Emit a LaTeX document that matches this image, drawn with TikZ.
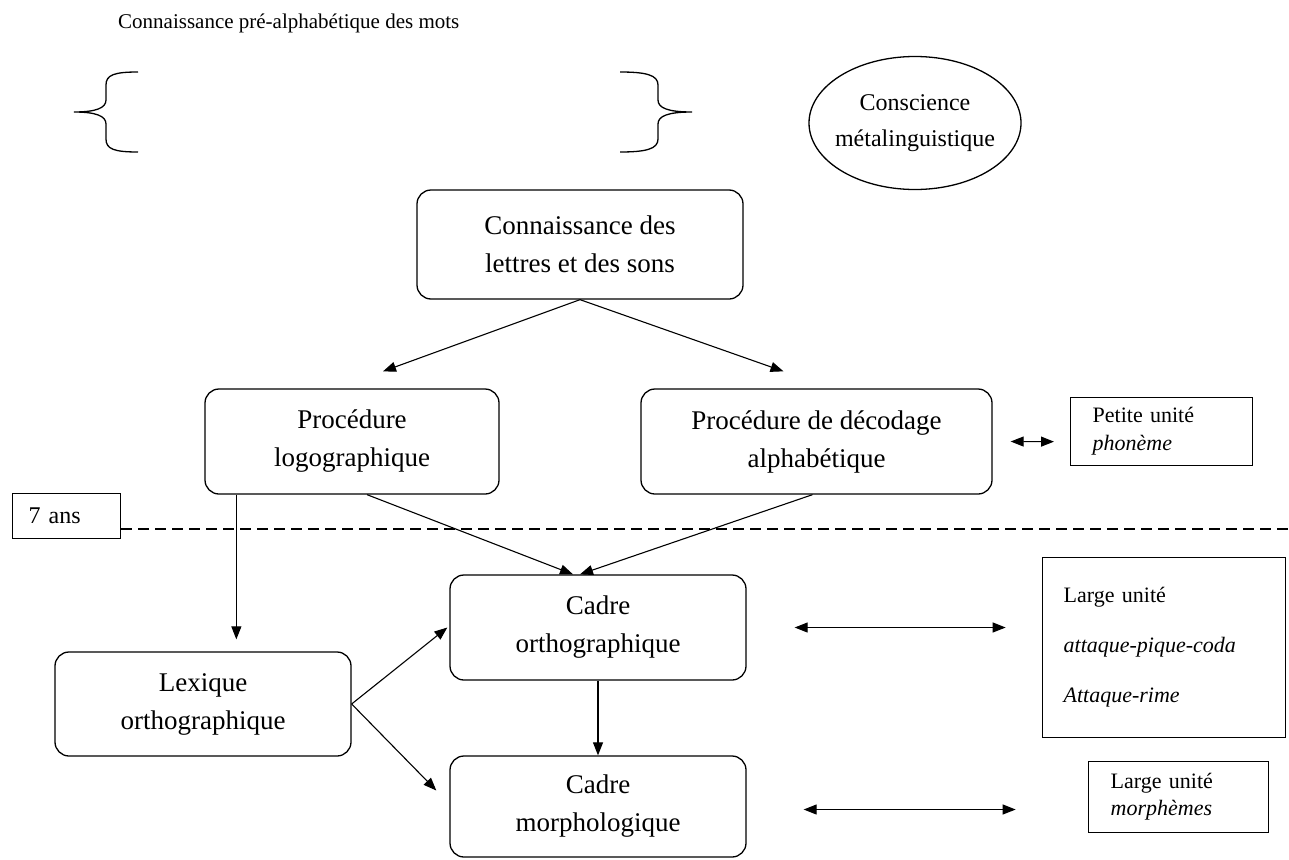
\documentclass[tikz,border=0pt]{standalone}
\usepackage{fontspec}
\setmainfont{Liberation Serif}
\usetikzlibrary{arrows.meta,shapes.geometric,calc}
\begin{document}
\begin{tikzpicture}[x=1pt,y=-1pt,
  rbox/.style={draw,line width=1.3pt,rounded corners=14pt,align=center,inner sep=0pt,font=\fontsize{27}{38}\selectfont},
  sbox/.style={draw,line width=1.3pt,anchor=north west,align=left,inner ysep=0pt},
  arr/.style={line width=1.1pt,-{Triangle[length=13pt,width=10pt]}},
  darr/.style={line width=1.1pt,{Triangle[length=13pt,width=10pt]}-{Triangle[length=13pt,width=10pt]}},
  brace/.style={line width=1.3pt},
  small/.style={font=\fontsize{22}{28}\selectfont}
]
\useasboundingbox (0,0) rectangle (1289,859);

% title
\node[anchor=west,inner sep=0pt,font=\fontsize{21}{26}\selectfont] (title) at (118,23) {Connaissance pré-alphabétique des mots};

% braces
\draw[brace] (138,72) .. controls (114,72) and (106,75) .. (106,85) -- (106,100)
  .. controls (106,108) and (96,112) .. (74,112)
  .. controls (96,112) and (106,116) .. (106,124) -- (106,139)
  .. controls (106,149) and (114,152) .. (138,152);
\draw[brace] (620,72) .. controls (646,72) and (658,75) .. (658,85) -- (658,100)
  .. controls (658,108) and (668,112) .. (692,112)
  .. controls (668,112) and (658,116) .. (658,124) -- (658,139)
  .. controls (658,149) and (646,152) .. (620,152);

% ellipse
\node[draw,ellipse,line width=1.3pt,minimum width=212pt,minimum height=133pt,align=center,inner sep=-14pt,font=\fontsize{24}{36}\selectfont] (ell) at (915,123) {Conscience\\métalinguistique};

% rounded boxes
\node[rbox,minimum width=326pt,minimum height=109pt] (conn) at (580,244.5) {Connaissance des\\lettres et des sons};
\node[rbox,minimum width=294pt,minimum height=105pt] (logo) at (352,441.5) {Procédure\\logographique};
\node[rbox,minimum width=351pt,minimum height=105pt] (alpha) at (816.5,441.5) {Procédure de décodage\\alphabétique};
\node[rbox,minimum width=296pt,minimum height=104pt] (lex) at (203,704) {Lexique\\orthographique};
\node[rbox,minimum width=296pt,minimum height=105pt] (ortho) at (598,627.5) {Cadre\\orthographique};
\node[rbox,minimum width=296pt,minimum height=101pt] (morpho) at (598,806.5) {Cadre\\morphologique};

% square boxes
\node[sbox,small,minimum width=182pt,minimum height=68pt,inner xsep=22pt,text width=138pt] (petite) at (1070,397) {Petite unité\\\textit{phonème}};
\node[sbox,minimum width=243pt,minimum height=180pt,inner xsep=21pt,text width=201pt,font=\fontsize{22}{50}\selectfont] (large) at (1042,557) {Large unité\\\textit{attaque-pique-coda}\\\textit{Attaque-rime}};
\node[sbox,minimum width=180pt,minimum height=71pt,inner xsep=22pt,text width=136pt,font=\fontsize{22}{27}\selectfont] (morph) at (1088,761) {Large unité\\\textit{morphèmes}};
\node[sbox,minimum width=108pt,minimum height=45pt,inner xsep=16pt,text width=76pt,font=\fontsize{24}{28}\selectfont] (ans) at (12,493) {7 ans};

% dashed line
\coordinate (dashend) at (1289,529);
\draw[line width=1.1pt,dash pattern=on 11pt off 6pt] (ans.east |- dashend) -- (dashend);

% arrows
\draw[arr] (conn.south) -- ($(logo.north)+(31,-17)$);
\draw[arr] (conn.south) -- ($(alpha.north)+(-33,-17)$);
\draw[arr] ($(logo.south west)+(32,0)$) -- ($(lex.north west)+(182,-12)$);
\draw[arr] ($(logo.south)+(15,0)$) -- ($(ortho.north)+(-25,0)$);
\draw[arr] ($(alpha.south)+(-4,0)$) -- ($(ortho.north)+(-18,0)$);
\draw[arr] (lex.east) -- ($(ortho.west)+(-2,0)$);
\draw[arr] (lex.east) -- ($(morpho.west)+(-13,-16)$);
\draw[arr] (ortho.south) -- (morpho.north);
\draw[darr] ($(ortho.east)+(48,0)$) -- ($(ortho.east)+(259,0)$);
\draw[darr] ($(morpho.east)+(57,3)$) -- ($(morpho.east)+(269,3)$);
\draw[darr] ($(alpha.east)+(18,0)$) -- ($(petite.west)+(-16,10)$);
\end{tikzpicture}
\end{document}
